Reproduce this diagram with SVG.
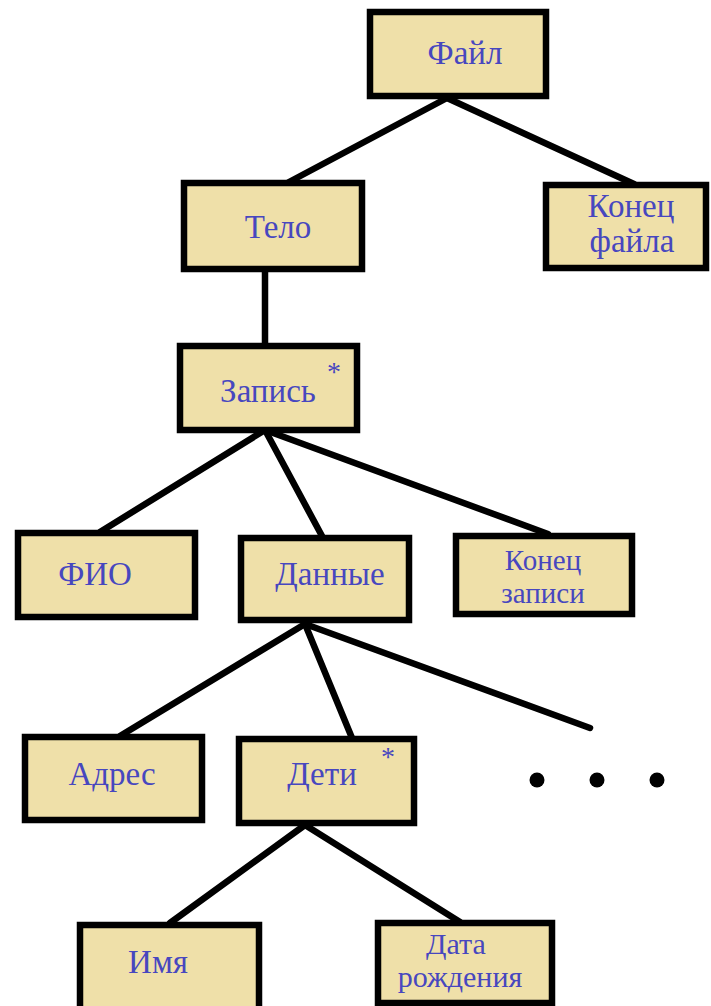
<svg xmlns="http://www.w3.org/2000/svg" width="711" height="1006" viewBox="0 0 711 1006">
<style>
.box{fill:#EFE0A9;stroke:#000;stroke-width:6.5}
.t{font-family:"Liberation Serif","Times New Roman",serif;font-size:33px;fill:#4747BF;text-anchor:middle}
.t2{font-family:"Liberation Serif","Times New Roman",serif;font-size:30px;fill:#4747BF;text-anchor:middle}
.t3{font-family:"Liberation Serif","Times New Roman",serif;font-size:29px;fill:#4747BF;text-anchor:middle}
.s{font-family:"Liberation Serif","Times New Roman",serif;font-size:28px;fill:#4747BF;text-anchor:middle}
.c line{stroke:#000;stroke-width:6.5;stroke-linecap:round}
</style>
<rect width="711" height="1006" fill="#fff"/>
<g class="c" id="connectors">
<line x1="447" y1="98" x2="289" y2="182"/>
<line x1="447" y1="98" x2="634" y2="184"/>
<line x1="265" y1="270" x2="265" y2="346"/>
<line x1="265" y1="430" x2="100" y2="532"/>
<line x1="265" y1="430" x2="322" y2="536"/>
<line x1="265" y1="430" x2="548" y2="534"/>
<line x1="305" y1="624" x2="120" y2="736"/>
<line x1="305" y1="624" x2="352" y2="738"/>
<line x1="305" y1="624" x2="590" y2="728"/>
<line x1="305" y1="825" x2="170" y2="923"/>
<line x1="305" y1="825" x2="460" y2="922"/>
</g>
<g id="n-file"><rect class="box" x="370" y="12" width="176" height="84"/><text class="t" x="465" y="64">Файл</text></g>
<g id="n-body"><rect class="box" x="184" y="183" width="178" height="86"/><text class="t" x="278" y="238">Тело</text></g>
<g id="n-eof"><rect class="box" x="546" y="185" width="160" height="83"/><text class="t" x="631" y="217">Конец</text><text class="t" x="632" y="252">файла</text></g>
<g id="n-record"><rect class="box" x="180" y="346" width="177" height="84"/><text class="t" x="268" y="402">Запись</text><text class="s" x="334" y="381">*</text></g>
<g id="n-fio"><rect class="box" x="18" y="533" width="177" height="84"/><text class="t" x="95" y="585">ФИО</text></g>
<g id="n-data"><rect class="box" x="241" y="538" width="168" height="82"/><text class="t" x="330" y="585">Данные</text></g>
<g id="n-eor"><rect class="box" x="456" y="536" width="176" height="78"/><text class="t3" x="543" y="570">Конец</text><text class="t3" x="543" y="603">записи</text></g>
<g id="n-addr"><rect class="box" x="25" y="737" width="177" height="83"/><text class="t" x="112" y="785">Адрес</text></g>
<g id="n-kids"><rect class="box" x="239" y="739" width="175" height="84"/><text class="t" x="322" y="785">Дети</text><text class="s" x="388" y="766">*</text></g>
<g id="n-more"><circle cx="537" cy="780" r="7.5"/><circle cx="597" cy="780" r="7.5"/><circle cx="657" cy="780" r="7.5"/></g>
<g id="n-name"><rect class="box" x="80" y="925" width="179" height="90"/><text class="t" x="158" y="973">Имя</text></g>
<g id="n-dob"><rect class="box" x="378" y="923" width="174" height="80"/><text class="t2" x="456" y="954">Дата</text><text class="t2" x="460" y="987">рождения</text></g>
</svg>
